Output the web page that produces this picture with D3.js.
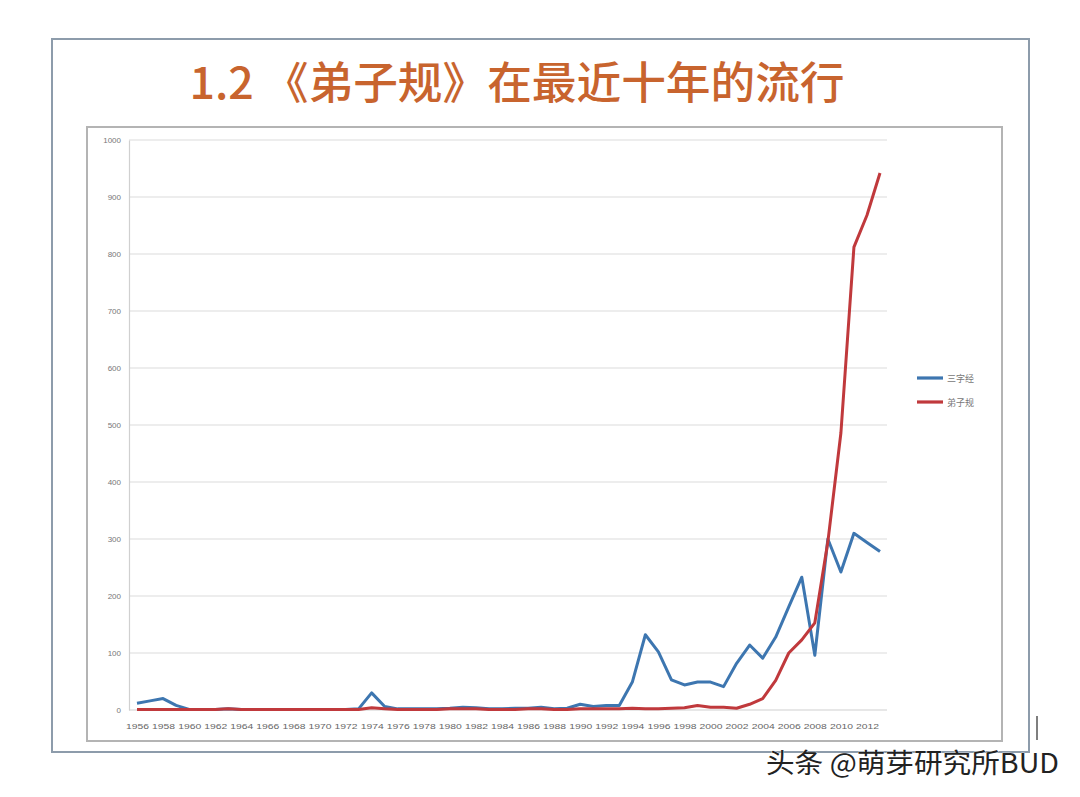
<!DOCTYPE html>
<html><head><meta charset="utf-8">
<script src="https://cdn.jsdelivr.net/npm/d3@7"></script>
<style>html,body{margin:0;padding:0;background:#fff;}svg{display:block;}</style>
</head><body>
<svg id="c" width="1080" height="797"></svg>
<script>
const years = d3.range(1956, 2014);
const sanzijing = [12,16,20,8,1,1,1,2,1,1,1,1,1,1,1,1,1,2,30,6,2,2,2,2,3,5,4,2,2,3,3,5,2,3,10,6,8,8,49,132,102,53,44,49,49,41,82,114,91,128,181,233,96,300,242,310,294,278];
const dizigui = [1,1,1,1,1,1,1,2,1,1,1,1,1,1,1,1,1,1,4,2,1,1,1,1,2,2,2,1,1,1,2,2,1,1,2,2,2,2,3,2,2,3,4,8,5,5,3,10,20,52,100,123,153,295,486,812,868,942];
const yTicks = [0,100,200,300,400,500,600,700,800,900,1000];
const xTickYears = d3.range(1956, 2013, 2);
const seriesNames = ["三字经","弟子规"];
const colors = ["#3d76b0","#c0393c"];
const title = "1.2 《弟子规》在最近十年的流行";

const svg = d3.select("#c");
// slide border
svg.append("rect").attr("x",52).attr("y",39).attr("width",977).attr("height",713)
  .attr("fill","#fff").attr("stroke","#8d9cab").attr("stroke-width",2);
// chart frame
svg.append("rect").attr("x",87).attr("y",127).attr("width",915).attr("height",614)
  .attr("fill","#fff").attr("stroke","#b4b4b4").attr("stroke-width",2);

svg.append("text").attr("x",517).attr("y",99).attr("text-anchor","middle")
  .attr("font-family","'Noto Sans CJK SC', sans-serif").attr("font-size",44).attr("font-weight",500)
  .attr("fill","#c8642e").attr("textLength",655).attr("lengthAdjust","spacingAndGlyphs").text(title);

const x = d3.scalePoint().domain(years).range([137, 880]);
const y = d3.scaleLinear().domain([0,1000]).range([710, 140]);

// gridlines
svg.append("g").selectAll("line").data(yTicks.filter(d=>d>0)).join("line")
  .attr("x1",129).attr("x2",887).attr("y1",d=>y(d)).attr("y2",d=>y(d))
  .attr("stroke","#dcdcdc").attr("stroke-width",1.2);

// y axis
const ya = svg.append("g").attr("transform","translate(129,0)")
  .call(d3.axisLeft(y).tickValues(yTicks).tickFormat(d3.format("d")).tickSize(0).tickPadding(8));
ya.select(".domain").attr("stroke","#d0d0d0").attr("stroke-width",1.2);
ya.selectAll("text").attr("font-family","'Liberation Sans', sans-serif").attr("font-size",8).attr("fill","#777");

// x axis
const xa = svg.append("g").attr("transform","translate(0,710)")
  .call(d3.axisBottom(x).tickValues(xTickYears).tickSize(0).tickPadding(13));
xa.select(".domain").attr("stroke","#cfcfcf").attr("d","M129,0H887");
xa.selectAll("text").attr("font-family","'Liberation Sans', sans-serif").attr("font-size",8).attr("fill","#666")
  .attr("textLength",23).attr("lengthAdjust","spacingAndGlyphs");

const line = d3.line().x((d,i)=>x(years[i])).y(d=>y(d));
[sanzijing, dizigui].forEach((s,k)=>{
  svg.append("path").datum(s).attr("d",line).attr("fill","none")
    .attr("stroke",colors[k]).attr("stroke-width",3).attr("stroke-linejoin","round");
});

// legend
seriesNames.forEach((n,k)=>{
  const ly = 378 + k*24;
  svg.append("line").attr("x1",917).attr("x2",943).attr("y1",ly).attr("y2",ly)
    .attr("stroke",colors[k]).attr("stroke-width",3.2);
  svg.append("text").attr("x",947).attr("y",ly+3.5).attr("font-size",9)
    .attr("font-family","'Noto Sans CJK SC', sans-serif").attr("fill","#777").text(n);
});

// watermark
svg.append("line").attr("x1",1037).attr("x2",1037).attr("y1",716).attr("y2",740).attr("stroke","#555").attr("stroke-width",1.5);
svg.append("text").attr("x",1059).attr("y",773).attr("text-anchor","end")
  .attr("font-family","'Noto Sans CJK SC', sans-serif").attr("font-size",27)
  .attr("fill","#222").attr("stroke","#fff").attr("stroke-width",0.6).attr("paint-order","stroke")
  .attr("textLength",293).attr("lengthAdjust","spacingAndGlyphs")
  .text("头条 @萌芽研究所BUD");
</script>
</body></html>
